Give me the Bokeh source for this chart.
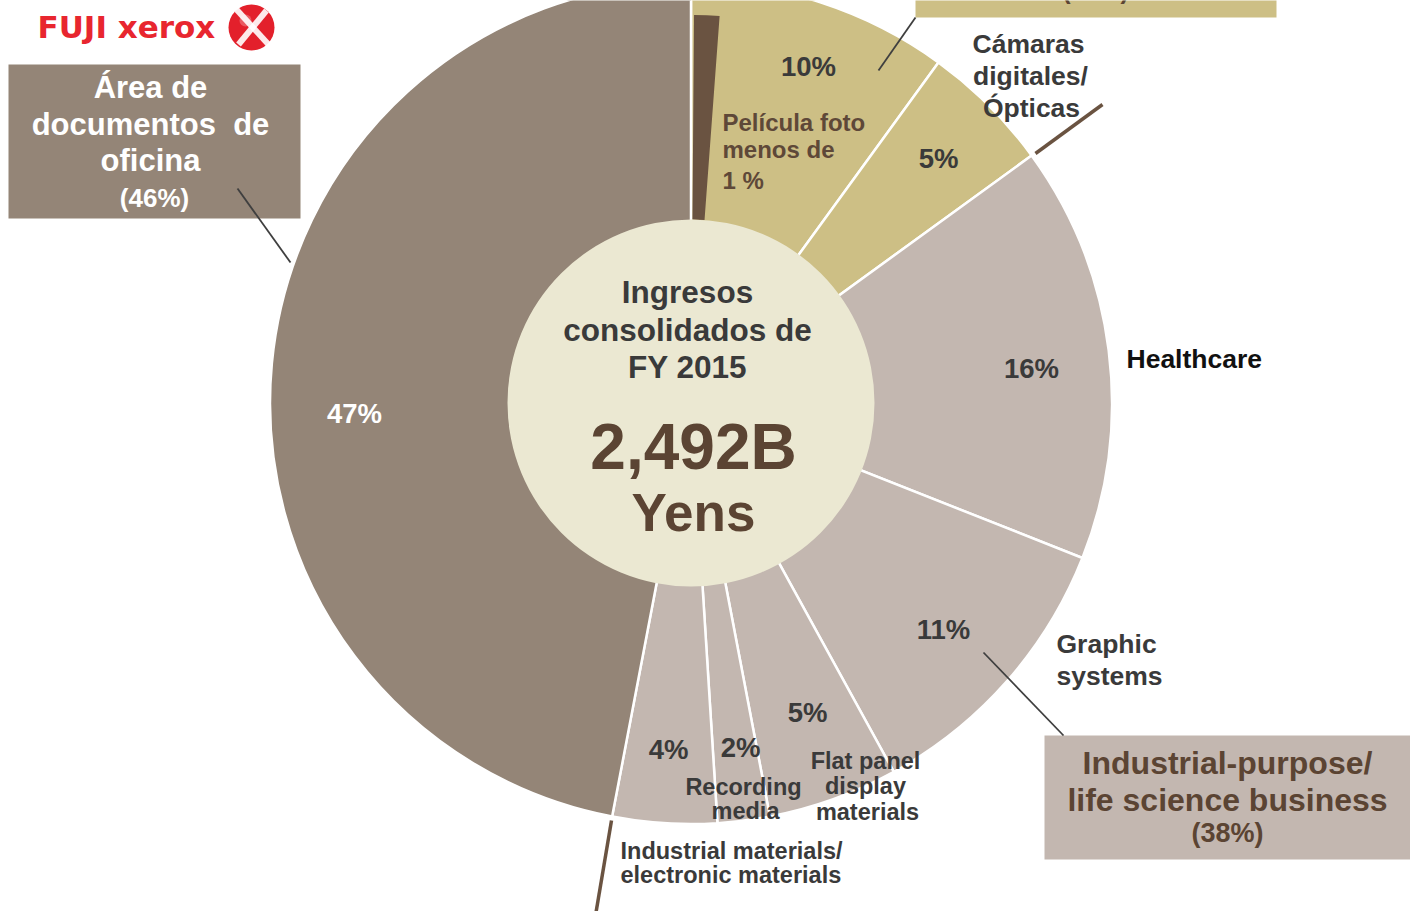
import math
from bokeh.plotting import figure
from bokeh.models import Range1d, ColumnDataSource
from bokeh.core.properties import value
from bokeh.embed import file_html
from bokeh.resources import INLINE

# ---------------- data ----------------
segments = ["Cámaras / Película foto", "Cámaras digitales/Ópticas", "Healthcare",
            "Graphic systems", "Flat panel display materials", "Recording media",
            "Industrial materials/electronic materials", "Área de documentos de oficina"]
shares = [10, 5, 16, 11, 5, 2, 4, 47]
pct_labels = ["10%", "5%", "16%", "11%", "5%", "2%", "4%", "47%"]
seg_colors = ["#CDBF85", "#CDBF85", "#C3B7B0", "#C3B7B0", "#C3B7B0", "#C3B7B0",
              "#C3B7B0", "#948577"]
film_share = 1.05          # "Película foto menos de 1%"
group_labels = ["(46%)", "(38%)", "(16%)"]
revenue_label = "2,492B"

# ---------------- layout ----------------
W, H = 1410, 911
CX, CY = 690.5, 402.5
R_OUT, R_IN = 421, 183.5
FONT = value("Liberation Sans")


def Y(py):
    return H - py


p = figure(width=W, height=H, x_range=Range1d(0, W), y_range=Range1d(0, H),
           output_backend="svg", toolbar_location=None, min_border=0,
           x_axis_location=None, y_axis_location=None)
p.grid.visible = False
p.outline_line_color = None
p.background_fill_color = "white"
p.border_fill_color = "white"

# ---------------- donut ----------------
total = float(sum(shares))
starts, ends = [], []
cum = 0.0
for s in shares:
    starts.append(math.pi / 2 - cum / total * 2 * math.pi)
    cum += s
    ends.append(math.pi / 2 - cum / total * 2 * math.pi)

src = ColumnDataSource(dict(seg=segments, start=starts, end=ends, color=seg_colors,
                            x=[CX] * len(shares), y=[Y(CY)] * len(shares)))
p.wedge(x="x", y="y", radius=R_OUT, start_angle="start", end_angle="end",
        direction="clock", fill_color="color", line_color="white", line_width=2.5,
        source=src)

# film slice (drawn inside the first tan slice)
off = math.radians(0.45)
p.annular_wedge(x=[CX], y=[Y(CY)], inner_radius=R_IN, outer_radius=388,
                start_angle=[math.pi / 2 - off],
                end_angle=[math.pi / 2 - off - film_share / 100 * 2 * math.pi],
                direction="clock", fill_color="#6A5341", line_color=None)

# center disc
p.circle(x=[CX], y=[Y(CY)], radius=R_IN, fill_color="#EBE8D2", line_color=None)


def txt(x, y, s, size, color, align="center", style="bold", font=FONT):
    p.text(x=[x], y=[Y(y)], text=[s], text_font=font, text_font_size=f"{size}px",
           text_font_style=style, text_color=color, text_align=align,
           text_baseline="middle")


DARK = "#3A3A3A"
BROWN = "#5B4433"

# center text
txt(687, 291, "Ingresos", 31.5, DARK)
txt(687, 329, "consolidados de", 31.5, DARK)
txt(687, 366, "FY 2015", 31.5, DARK)
txt(693, 446, revenue_label, 64, BROWN)
txt(693, 512, "Yens", 53, BROWN)

# percent labels inside slices
pct_pos = [(808, 66), (938, 158), (1031, 368), (943, 629), (807, 712),
           (740, 747), (668, 749), (354, 413)]
for (x, y), lab in zip(pct_pos, pct_labels):
    txt(x, y, lab, 27.5, "white" if lab == "47%" else DARK)

# film label
FILMC = "#5E4838"
txt(722, 122, "Película foto", 24, FILMC, align="left")
txt(722, 149, "menos de", 24, FILMC, align="left")
txt(722, 180, "1 %", 24, FILMC, align="left")

# outer labels
txt(1028, 43, "Cámaras", 26.5, DARK)
txt(1030, 75, "digitales/", 26.5, DARK)
txt(1031, 107, "Ópticas", 26.5, DARK)
txt(1126, 358, "Healthcare", 26.5, "#111111", align="left")
txt(1056, 643, "Graphic", 26.5, DARK, align="left")
txt(1056, 675, "systems", 26.5, DARK, align="left")
txt(865, 760, "Flat panel", 23.5, DARK)
txt(865, 785, "display", 23.5, DARK)
txt(867, 811, "materials", 23.5, DARK)
txt(743, 786, "Recording", 23.5, DARK)
txt(745, 810, "media", 23.5, DARK)
txt(620, 850, "Industrial materials/", 23.5, DARK, align="left")
txt(620, 874, "electronic materials", 23.5, DARK, align="left")

# ---------------- boxes ----------------
p.quad(left=[8], right=[300], top=[Y(64)], bottom=[Y(218)], fill_color="#948577",
       line_color=None)
txt(150, 87, "Área de", 31, "white")
txt(150, 124, "documentos\u00a0\u00a0de", 31, "white")
txt(150, 160, "oficina", 31, "white")
txt(154, 197, group_labels[0], 26, "white")

p.quad(left=[1044], right=[1410], top=[Y(735)], bottom=[Y(859)], fill_color="#C3B7B0",
       line_color=None)
txt(1227, 762, "Industrial-purpose/", 32, BROWN)
txt(1227, 799, "life science business", 32, BROWN)
txt(1227, 832, group_labels[1], 27, BROWN)

p.quad(left=[915], right=[1276], top=[Y(-40)], bottom=[Y(17)], fill_color="#CDBF85",
       line_color=None)
txt(1095, -11, group_labels[2], 25, BROWN)

# ---------------- leader lines ----------------
p.segment(x0=[237, 878, 983], y0=[Y(188), Y(70), Y(652)],
          x1=[290, 915, 1063], y1=[Y(262), Y(17), Y(735)],
          line_color="#3F3F3F", line_width=1.8)
p.segment(x0=[1035, 611], y0=[Y(153), Y(820)], x1=[1102, 595], y1=[Y(104), Y(915)],
          line_color="#6A5341", line_width=3.5)

# ---------------- logo ----------------
txt(37, 26, "FUJI xerox", 31, "#E8262F", align="left", font=value("DejaVu Sans"))
p.circle(x=[251], y=[Y(27)], radius=23, fill_color="#E3202B", line_color=None)
p.segment(x0=[236, 266], y0=[Y(9), Y(10)], x1=[268, 238], y1=[Y(44), Y(44)],
          line_color="white", line_width=6, line_alpha=0.9)
p.circle(x=[245], y=[Y(20)], radius=6, fill_color="white", fill_alpha=0.25,
         line_color=None)

open("out.html", "w").write(file_html(p, INLINE))
